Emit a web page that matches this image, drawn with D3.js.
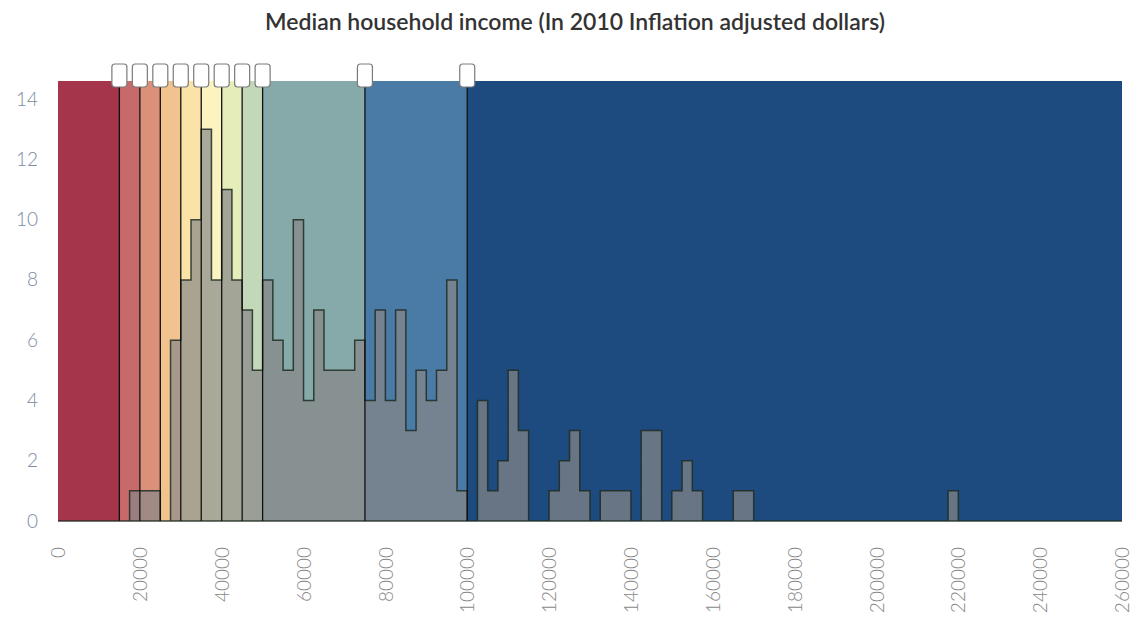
<!DOCTYPE html>
<html>
<head>
<meta charset="utf-8">
<script src="https://cdn.jsdelivr.net/npm/d3@7"></script>
<style>
  body { margin: 0; background: #fff; }
  svg text { font-family: Lato, "Open Sans", sans-serif; }
</style>
</head>
<body>
<div id="chart"></div>
<script>
// chart data
var title = "Median household income (In 2010 Inflation adjusted dollars)";

// income bands (left edges) and their colours
var thresholds = [15000, 20000, 25000, 30000, 35000, 40000, 45000, 50000, 75000, 100000];
var bandColors = ["#a5354a", "#c76a6b", "#db9079", "#f1c48f", "#fbe3a7", "#fbf4c1",
                  "#e5eebb", "#c3d8b8", "#86a9a9", "#4a7ba6", "#1d4b80"];

// histogram, 2500 dollar bins starting at 0
var binWidth = 2500;
var counts = [0, 0, 0, 0, 0, 0, 0, 1, 1, 1,
              0, 6, 8, 10, 13, 8, 11, 8, 7, 5,
              8, 6, 5, 10, 4, 7, 5, 5, 5, 6,
              4, 7, 4, 7, 3, 5, 4, 5, 8, 1,
              0, 4, 1, 2, 5, 3, 0, 0, 1, 2,
              3, 1, 0, 1, 1, 1, 0, 3, 3, 0,
              1, 2, 1, 0, 0, 0, 1, 1, 0, 0,
              0, 0, 0, 0, 0, 0, 0, 0, 0, 0,
              0, 0, 0, 0, 0, 0, 0, 1, 0];

var xTicks = [0, 20000, 40000, 60000, 80000, 100000, 120000, 140000, 160000, 180000, 200000, 220000, 240000, 260000];
var yTicks = [0, 2, 4, 6, 8, 10, 12, 14];
var xMax = 260000, yMax = 14.6;

var width = 1143, height = 619;
var margin = {top: 81, right: 21, bottom: 98, left: 58};
var w = width - margin.left - margin.right;
var h = height - margin.top - margin.bottom;

var svg = d3.select('#chart')
    .append('svg')
    .attr('width', width)
    .attr('height', height);

svg.append('text')
    .attr('x', 575)
    .attr('y', 30)
    .attr('text-anchor', 'middle')
    .style('font-size', '23px')
    .style('font-weight', 600)
    .style('fill', '#333')
    .text(title);

var g = svg.append('g')
    .attr('transform', 'translate(' + margin.left + ',' + margin.top + ')');

var x = d3.scaleLinear().domain([0, xMax]).range([0, w]);
var y = d3.scaleLinear().domain([0, yMax]).range([h, 0]);

// background bands
var edges = [0].concat(thresholds).concat([xMax]);
var bands = d3.range(edges.length - 1).map(function(i){
    return {x0: edges[i], x1: edges[i + 1], color: bandColors[i]};
});

g.selectAll('rect.band')
    .data(bands)
    .enter()
    .append('rect')
    .attr('class', 'band')
    .attr('x', d => x(d.x0))
    .attr('y', 0)
    .attr('width', d => x(d.x1) - x(d.x0))
    .attr('height', h)
    .attr('fill', d => d.color);

// histogram as a step area
var pts = counts.map(function(c, i){ return {x: i * binWidth, v: c}; });
pts.push({x: xMax, v: 0});

var area = d3.area()
    .curve(d3.curveStepAfter)
    .x(d => x(d.x))
    .y0(y(0))
    .y1(d => y(d.v));

g.append('path')
    .datum(pts)
    .attr('d', area)
    .attr('fill', '#878787')
    .attr('fill-opacity', 0.7)
    .attr('stroke', '#1f2b22')
    .attr('stroke-opacity', 0.85)
    .attr('stroke-width', 1.5);

// threshold lines with handles
g.selectAll('line.thr')
    .data(thresholds)
    .enter()
    .append('line')
    .attr('class', 'thr')
    .attr('x1', d => x(d))
    .attr('x2', d => x(d))
    .attr('y1', 0)
    .attr('y2', h)
    .attr('stroke', '#111')
    .attr('stroke-width', 1.3);

g.selectAll('rect.handle')
    .data(thresholds)
    .enter()
    .append('rect')
    .attr('class', 'handle')
    .attr('x', d => x(d) - 7.5)
    .attr('y', -17)
    .attr('width', 15)
    .attr('height', 23)
    .attr('rx', 3)
    .attr('fill', '#fff')
    .attr('stroke', '#7a7a7a')
    .attr('stroke-width', 1.2);

// axes
var yAxis = g.append('g')
    .call(d3.axisLeft(y).tickValues(yTicks).tickSize(0).tickPadding(20));
yAxis.select('.domain').remove();
yAxis.selectAll('text')
    .style('font-size', '19px')
    .style('font-weight', 300)
    .style('fill', '#7b8aa2')
    .style('font-family', 'Lato, sans-serif');

var xAxis = g.append('g')
    .attr('transform', 'translate(0,' + h + ')')
    .call(d3.axisBottom(x).tickValues(xTicks).tickSize(0).tickFormat(d3.format('d')));
xAxis.select('.domain').remove();
xAxis.selectAll('text')
    .attr('transform', 'rotate(-90)')
    .attr('x', -26)
    .attr('y', 0)
    .attr('dy', '0.35em')
    .attr('text-anchor', 'end')
    .style('font-size', '19px')
    .style('font-weight', 300)
    .style('fill', '#888')
    .style('font-family', 'Lato, sans-serif');
</script>
</body>
</html>
